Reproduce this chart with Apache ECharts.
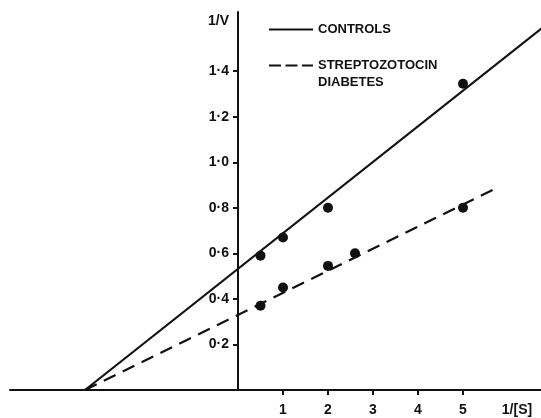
<!DOCTYPE html>
<html>
<head>
<meta charset="utf-8">
<script src="https://cdn.jsdelivr.net/npm/echarts@6/dist/echarts.min.js"></script>
<style>
  html, body { margin: 0; padding: 0; background: #fff; }
  #chart { width: 541px; height: 418px; }
</style>
</head>
<body>
<div id="chart"></div>
<script>
// reciprocal substrate concentration, 1/[S]
const controlsX = [0.5, 1, 2, 5];
const controlsY = [0.59, 0.67, 0.80, 1.345];
const diabetesX = [0.5, 1, 2, 2.6, 5];
const diabetesY = [0.37, 0.45, 0.545, 0.60, 0.80];

// fitted lines, end points in data units
const controlsLine = [[-3.4, 0], [6.8, 1.596]];
const diabetesLine = [[-3.4, 0], [5.67, 0.88]];

const xTicks = [1, 2, 3, 4, 5];
const yTicks = [0.2, 0.4, 0.6, 0.8, 1.0, 1.2, 1.4];
const xName = '1/[S]';
const yName = '1/V';
const seriesNames = ['CONTROLS', 'STREPTOZOTOCIN\nDIABETES'];

const ink = '#111';
const font = 'Liberation Sans';

// 45 px per x unit; y axis sits at x = 0, 228 px from the grid's left edge
const gridLeft = 10;
const yAxisShift = 228;
const xMin = -yAxisShift / 45;
const xMax = (541 - gridLeft - yAxisShift) / 45;

const fmtTick = v => v.toFixed(1).replace('.', '\u00b7');

let chart = echarts.init(document.getElementById('chart'), null, { renderer: 'canvas' });

const legendText = { color: ink, fontSize: 13, fontWeight: 'bold', lineHeight: 17, fontFamily: font };
const tickText = { color: ink, fontSize: 14, fontWeight: 'bold', fontFamily: font };

chart.setOption({
    animation: false,
    textStyle: { fontFamily: font },
    grid: { left: gridLeft, right: 0, top: 12, bottom: 28, containLabel: false, outerBoundsMode: 'none' },
    xAxis: {
        type: 'value',
        min: xMin,
        max: xMax,
        splitLine: { show: false },
        axisLine: { onZero: false, lineStyle: { color: ink, width: 2 } },
        axisTick: { show: true, customValues: xTicks, length: 5, lineStyle: { color: ink, width: 2 } },
        axisLabel: Object.assign({
            customValues: xTicks.concat([6.2]),
            formatter: v => (v > 5.5 ? xName : String(v)),
            margin: 13
        }, tickText)
    },
    yAxis: {
        type: 'value',
        min: 0,
        max: 1.66,
        offset: -yAxisShift,
        splitLine: { show: false },
        axisLine: { onZero: false, lineStyle: { color: ink, width: 2 } },
        axisTick: { show: true, customValues: yTicks, length: 5, lineStyle: { color: ink, width: 2 } },
        axisLabel: Object.assign({
            customValues: yTicks.concat([1.62]),
            formatter: v => (v > 1.5 ? yName : fmtTick(v)),
            margin: 9
        }, tickText)
    },
    legend: [
        {
            data: [seriesNames[0]],
            left: 268, top: 21, padding: 0,
            itemWidth: 44, itemHeight: 14, itemGap: 0,
            itemStyle: { opacity: 0 },
            textStyle: legendText
        },
        {
            data: [seriesNames[1]],
            left: 268, top: 40, padding: 0,
            itemWidth: 44, itemHeight: 14, itemGap: 0,
            itemStyle: { opacity: 0 },
            lineStyle: { type: [12, 4.5] },
            // blank first line keeps the dash sample level with the first text line
            formatter: name => ' \n' + name,
            textStyle: legendText
        }
    ],
    series: [
        {
            name: seriesNames[0],
            type: 'line',
            data: controlsLine,
            symbol: 'none',
            lineStyle: { color: ink, width: 2.2 },
            itemStyle: { color: ink }
        },
        {
            name: seriesNames[1],
            type: 'line',
            data: diabetesLine,
            symbol: 'none',
            lineStyle: { color: ink, width: 2.2, type: [13, 8] },
            itemStyle: { color: ink }
        },
        {
            type: 'scatter',
            data: controlsX.map((x, i) => [x, controlsY[i]]),
            symbolSize: 10,
            itemStyle: { color: ink, opacity: 1 }
        },
        {
            type: 'scatter',
            data: diabetesX.map((x, i) => [x, diabetesY[i]]),
            symbolSize: 10,
            itemStyle: { color: ink, opacity: 1 }
        }
    ]
});
</script>
</body>
</html>
